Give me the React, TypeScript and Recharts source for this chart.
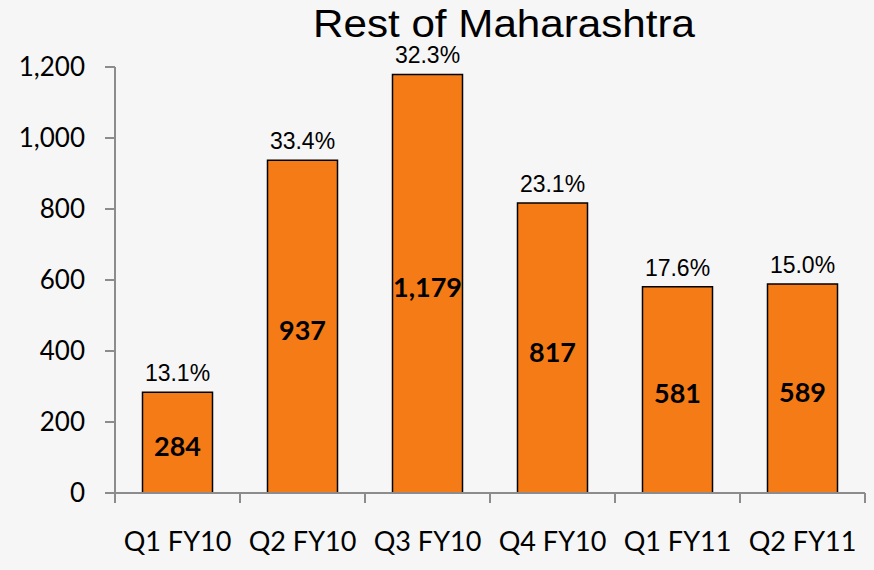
import { BarChart, Bar, XAxis, YAxis, LabelList } from "recharts";

const quarters = ["Q1 FY10", "Q2 FY10", "Q3 FY10", "Q4 FY10", "Q1 FY11", "Q2 FY11"];
const sales = [284, 937, 1179, 817, 581, 589];
const growth = ["13.1%", "33.4%", "32.3%", "23.1%", "17.6%", "15.0%"];
const yTicks = [0, 200, 400, 600, 800, 1000, 1200];

const data = quarters.map((q, i) => ({ quarter: q, value: sales[i], pct: growth[i] }));

const AXIS = "#8c8c8c";
const BAND = 125;

const CategoryTick = (props: any) => {
  const { x, y, payload, index } = props;
  const last = index === quarters.length - 1;
  return (
    <g>
      <line x1={x - BAND / 2} y1={y - 8} x2={x - BAND / 2} y2={y + 2} stroke={AXIS} strokeWidth={2} />
      {last && <line x1={x + BAND / 2} y1={y - 8} x2={x + BAND / 2} y2={y + 2} stroke={AXIS} strokeWidth={2} />}
      <text x={x} y={y + 50} textAnchor="middle" fontSize={27} fontFamily="Lato, sans-serif" fill="#000">
        {payload.value}
      </text>
    </g>
  );
};

export default function App() {
  return (
    <div style={{ position: "absolute", left: 0, top: 0, width: 874, height: 570, background: "#f6f6f6" }}>
      <BarChart
        width={874}
        height={570}
        data={data}
        margin={{ top: 67, right: 9, bottom: 0, left: 0 }}
        barCategoryGap="22%"
      >
        <text
          x={504}
          y={37}
          textAnchor="middle"
          fontSize={38}
          textLength={382}
          lengthAdjust="spacingAndGlyphs"
          fontFamily="Liberation Sans, Arial, sans-serif"
          fill="#000"
        >
          Rest of Maharashtra
        </text>
        <XAxis
          dataKey="quarter"
          height={77}
          tick={<CategoryTick />}
          tickLine={false}
          axisLine={{ stroke: AXIS, strokeWidth: 2 }}
          interval={0}
        />
        <YAxis
          width={115}
          domain={[0, 1200]}
          ticks={yTicks}
          tickFormatter={(v: number) => v.toLocaleString("en-US")}
          tick={{ fill: "#000", fontSize: 26, fontFamily: "Lato, sans-serif" }}
          tickSize={10}
          tickMargin={20}
          tickLine={{ stroke: AXIS, strokeWidth: 2 }}
          axisLine={{ stroke: AXIS, strokeWidth: 2 }}
        />
        <Bar dataKey="value" fill="#f47b16" stroke="#000" strokeWidth={1.5} isAnimationActive={false}>
          <LabelList
            dataKey="pct"
            position="top"
            offset={11}
            fill="#000"
            fontSize={23}
            fontFamily="Liberation Sans, Arial, sans-serif"
          />
          <LabelList
            dataKey="value"
            position="center"
            formatter={(v: any) => Number(v).toLocaleString("en-US")}
            fill="#000"
            fontSize={27}
            fontWeight="bold"
            fontFamily="Lato, sans-serif"
            dy={4}
          />
        </Bar>
      </BarChart>
    </div>
  );
}
